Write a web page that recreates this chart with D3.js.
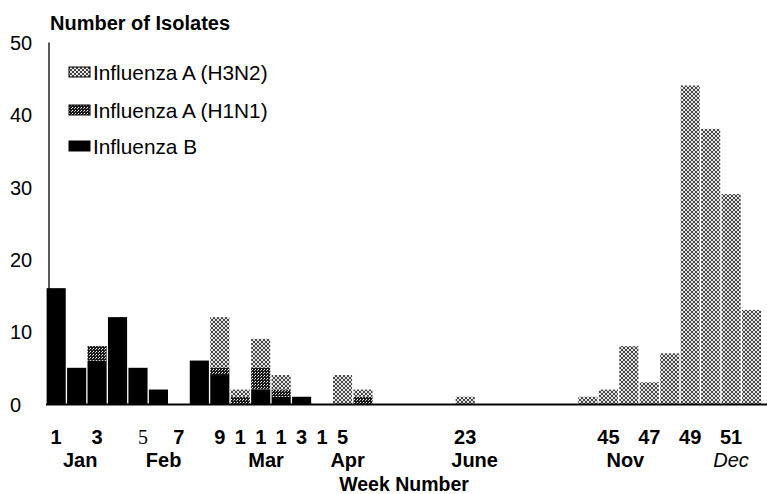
<!DOCTYPE html>
<html>
<head>
<meta charset="utf-8">
<script src="https://cdn.jsdelivr.net/npm/d3@7"></script>
<style>
  html, body { margin: 0; padding: 0; background: #fff; }
  svg { display: block; }
  text { font-family: "Liberation Sans", Arial, Helvetica, sans-serif; fill: #000; }
</style>
</head>
<body>
<svg id="chart" width="767" height="494"></svg>
<script>
// ---------------- data ----------------
// x slots (weeks shown; gap slots carry no label)
const slots = ["1","2","3","4","5","6","7","8","9","10","11","12","13","14","15","16",
  "g1","g2","g3","g4","23","g5","g6","g7","g8","g9",
  "44","45","46","47","48","49","50","51","52"];
const fluB  = [16,5,6,12,5,2,0,6,4,0,2,1,1,0,0,0, 0,0,0,0,0,0,0,0,0,0, 0,0,0,0,0,0,0,0,0];
const fluH1 = [0,0,2,0,0,0,0,0,1,1,3,1,0,0,0,1, 0,0,0,0,0,0,0,0,0,0, 0,0,0,0,0,0,0,0,0];
const fluH3 = [0,0,0,0,0,0,0,0,7,1,4,2,0,0,4,1, 0,0,0,0,1,0,0,0,0,0, 1,2,8,3,7,44,38,29,13];
const seriesNames = ["Influenza A (H3N2)", "Influenza A (H1N1)", "Influenza B"];
// week tick labels as printed under the slots
const tickSlots  = ["1","3","5","7","9","10","11","12","13","14","15","23","45","47","49","51"];
const tickLabels = ["1","3","5","7","9","1","1","1","3","1","5","23","45","47","49","51"];
// month labels and their position along the slot axis (in slot units)
const monthNames = ["Jan","Feb","Mar","Apr","June","Nov","Dec"];
const monthPos   = [1.67, 5.75, 10.76, 14.75, 20.96, 28.33, 33.5];
const yTicks = [0,10,20,30,40,50];

// ---------------- layout ----------------
const svg = d3.select("#chart");
const W = 767, H = 494;
const x0 = 46, step = 20.45;
const x = d3.scaleBand().domain(slots).range([x0, x0 + step * slots.length])
  .paddingInner(0.065).paddingOuter(0.03);
const xi = d3.scaleLinear().domain([0, slots.length]).range([x0, x0 + step * slots.length]);
const y = d3.scaleLinear().domain([0, 50]).range([404, 42]);

// ---------------- patterns ----------------
const defs = svg.append("defs");
const pH3 = defs.append("pattern").attr("id", "pH3").attr("patternUnits", "userSpaceOnUse")
  .attr("width", 4).attr("height", 4);
pH3.append("rect").attr("width", 4).attr("height", 4).attr("fill", "#e4e4e4");
pH3.append("path").attr("d", "M0,0L4,4M4,0L0,4").attr("stroke", "#1e1e1e").attr("stroke-width", 0.8);
const pH1 = defs.append("pattern").attr("id", "pH1").attr("patternUnits", "userSpaceOnUse")
  .attr("width", 3).attr("height", 3);
pH1.append("rect").attr("width", 3).attr("height", 3).attr("fill", "#1a1a1a");
pH1.append("rect").attr("x", 0).attr("y", 0).attr("width", 1).attr("height", 1).attr("fill", "#fff");
pH1.append("rect").attr("x", 2).attr("y", 1).attr("width", 1).attr("height", 1).attr("fill", "#bbb");
const fills = {"Influenza A (H3N2)": "url(#pH3)", "Influenza A (H1N1)": "url(#pH1)", "Influenza B": "#000"};

// ---------------- stacked bars ----------------
const rows = slots.map((s, i) => ({slot: s, "Influenza B": fluB[i], "Influenza A (H1N1)": fluH1[i], "Influenza A (H3N2)": fluH3[i]}));
const stack = d3.stack().keys(["Influenza B", "Influenza A (H1N1)", "Influenza A (H3N2)"]);
const layers = stack(rows);
svg.append("g").selectAll("g").data(layers).join("g")
  .attr("fill", d => fills[d.key])
  .selectAll("rect").data(d => d.filter(v => v[1] > v[0])).join("rect")
  .attr("x", d => x(d.data.slot))
  .attr("width", x.bandwidth())
  .attr("y", d => y(d[1]))
  .attr("height", d => y(d[0]) - y(d[1]));

// ---------------- axes ----------------
// baseline
svg.append("line").attr("x1", x0).attr("x2", W).attr("y1", y(0) + 0.5).attr("y2", y(0) + 0.5)
  .attr("stroke", "#000").attr("stroke-width", 2);

const yAxis = svg.append("g").attr("transform", "translate(48.5,0)")
  .call(d3.axisLeft(y).tickValues(yTicks).tickSize(0).tickSizeOuter(0));
yAxis.select(".domain").attr("stroke", "#000").attr("stroke-width", 1.3);
yAxis.selectAll("text").attr("x", 10 - 48.5).attr("text-anchor", "start")
  .style("font-size", "20px").style("font-family", "'Liberation Sans', Arial, sans-serif")
  .attr("dy", "0.36em");

const labelMap = new Map(tickSlots.map((s, i) => [s, tickLabels[i]]));
const xAxis = svg.append("g").attr("transform", `translate(0,${y(0)})`)
  .call(d3.axisBottom(x).tickValues(tickSlots).tickFormat(s => labelMap.get(s)).tickSize(0).tickPadding(0));
xAxis.select(".domain").remove();
xAxis.selectAll("text")
  .attr("y", 40).attr("dy", 0)
  .style("font-size", "20px").style("font-weight", "bold")
  .style("font-family", "'Liberation Sans', Arial, sans-serif");
xAxis.selectAll(".tick").filter(d => d === "5").select("text")
  .style("font-weight", "normal").style("font-family", "'Liberation Serif', 'Times New Roman', serif")
  .attr("x", 5);

svg.append("g").selectAll("text").data(monthNames).join("text")
  .attr("x", (d, i) => xi(monthPos[i]))
  .attr("y", 467)
  .attr("text-anchor", "middle")
  .style("font-size", "20px")
  .style("font-weight", d => d === "Dec" ? "normal" : "bold")
  .style("font-style", d => d === "Dec" ? "italic" : "normal")
  .text(d => d);

svg.append("text").attr("x", 404).attr("y", 491).attr("text-anchor", "middle")
  .style("font-size", "19.5px").style("font-weight", "bold").text("Week Number");

svg.append("text").attr("x", 50).attr("y", 30)
  .style("font-size", "20px").style("font-weight", "bold").text("Number of Isolates");

// ---------------- legend ----------------
const legY = [72, 110, 146];
const leg = svg.append("g").selectAll("g").data(seriesNames).join("g")
  .attr("transform", (d, i) => `translate(69,${legY[i]})`);
leg.append("rect").attr("x", 0).attr("y", -5).attr("width", 21).attr("height", 10)
  .attr("fill", d => fills[d]).attr("stroke", "#000").attr("stroke-width", 1);
leg.append("text").attr("x", 24).attr("y", 7.5)
  .style("font-size", "20.8px").text(d => d);
</script>
</body>
</html>
